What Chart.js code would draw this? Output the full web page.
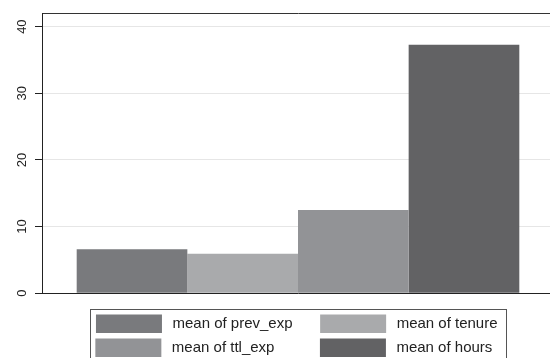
<!DOCTYPE html>
<html><head><meta charset="utf-8">
<script src="https://cdn.jsdelivr.net/npm/chart.js@4"></script>
<style>html,body{margin:0;padding:0;overflow:hidden;background:#fff}#wrap{width:556px;height:367px}</style>
</head><body><div id="wrap"><canvas id="c" width="556" height="367"></canvas></div>
<script>
const categories = [''];
const seriesNames = ['mean of prev_exp', 'mean of tenure', 'mean of ttl_exp', 'mean of hours'];
const prevExp = [6.58];
const tenure = [5.93];
const ttlExp = [12.5];
const hours = [37.29];
const seriesColors = ['#797a7d', '#a9aaac', '#929396', '#626264'];
const yTicks = [0, 10, 20, 30, 40];
const yMax = 42;

const seriesValues = [prevExp, tenure, ttlExp, hours];
const FONT = '"Liberation Sans", Arial, Helvetica, sans-serif';
Chart.defaults.font.family = FONT;
Chart.defaults.color = '#222';

const legendFrame = {
  id: 'legendFrame',
  afterDraw(chart) {
    const lg = chart.legend;
    if (!lg || !lg.legendHitBoxes || !lg.legendHitBoxes.length) return;
    const hb = lg.legendHitBoxes;
    const pad = lg.options.labels.padding;
    const left = Math.min(...hb.map(b => b.left)) - pad;
    const right = Math.max(...hb.map(b => b.left + b.width)) + pad;
    const ctx = chart.ctx;
    ctx.save();
    ctx.strokeStyle = '#555';
    ctx.lineWidth = 1;
    ctx.strokeRect(Math.round(left) + 0.5, Math.round(lg.top) + 0.5, Math.round(right - left), lg.bottom - lg.top + 20);
    ctx.restore();
  }
};

new Chart(document.getElementById('c'), {
  type: 'bar',
  data: {
    labels: categories,
    datasets: seriesNames.map((n, i) => ({
      label: n,
      data: seriesValues[i],
      backgroundColor: seriesColors[i],
      borderWidth: 0,
      categoryPercentage: 0.8645,
      barPercentage: 1.0
    }))
  },
  options: {
    responsive: false,
    animation: false,
    layout: { padding: { top: 9, right: 2, left: 0, bottom: 0 } },
    plugins: {
      tooltip: { enabled: false },
      legend: {
        position: 'bottom',
        align: 'center',
        fullSize: false,
        labels: {
          font: { size: 15, family: FONT },
          color: '#222',
          boxWidth: 66,
          boxHeight: 18.5,
          padding: 5.5,
          generateLabels(chart) {
            const items = Chart.defaults.plugins.legend.labels.generateLabels(chart);
            const ctx = chart.ctx;
            ctx.save();
            ctx.font = '15px ' + FONT;
            const targets = [146, 107.5];
            items.forEach((it, i) => {
              let t = '\u2009' + it.text;
              const target = targets[i % 2];
              let k = 0;
              while (k++ < 60 && ctx.measureText(t + ' ').width <= target) t += ' ';
              k = 0;
              while (k++ < 20 && ctx.measureText(t + '\u200A').width <= target && ctx.measureText('\u200A').width > 0) t += '\u200A';
              it.text = t;
            });
            ctx.restore();
            return items;
          }
        }
      }
    },
    scales: {
      x: {
        type: 'category',
        grid: { display: false },
        ticks: { display: false },
        border: { display: true, color: '#222', width: 1 },
        afterFit(s) { s.height = 15.8; }
      },
      x2: {
        type: 'linear',
        position: 'top',
        min: 0, max: 1,
        grid: { display: false },
        ticks: { display: false },
        border: { display: true, color: '#333', width: 1 },
        afterFit(s) { s.height = 0; }
      },
      y: {
        type: 'linear',
        min: 0,
        max: yMax,
        afterBuildTicks(s) { s.ticks = yTicks.map(v => ({ value: v })); },
        grid: { color: '#e6e6e6', lineWidth: 1, tickColor: '#222', tickLength: 7, drawTicks: true },
        border: { display: true, color: '#222', width: 1 },
        ticks: {
          minRotation: 90, maxRotation: 90,
          crossAlign: 'center',
          padding: 5.5,
          font: { size: 13, family: FONT },
          color: '#222'
        },
        afterFit(s) { s.width = 42; }
      }
    }
  },
  plugins: [legendFrame]
});
</script>
</body></html>
